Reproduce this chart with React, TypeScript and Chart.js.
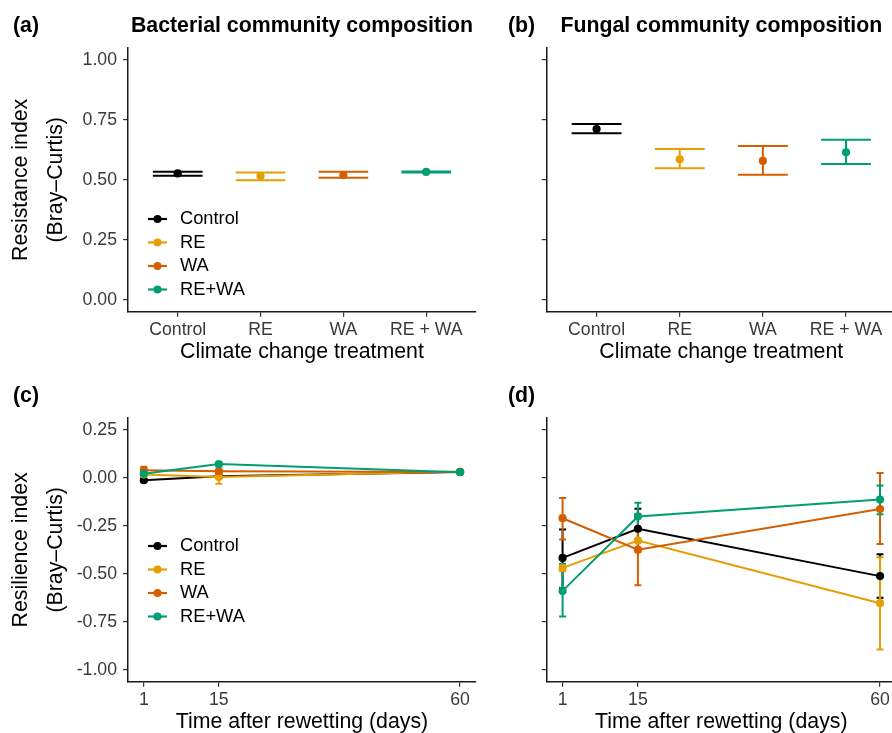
import React, { useEffect, useRef } from 'react';
import { Chart, registerables } from 'chart.js';

Chart.register(...registerables);

// ---------- data ----------
const treatments = ['Control', 'RE', 'WA', 'RE + WA'];
const seriesNames = ['Control', 'RE', 'WA', 'RE+WA'];
const seriesColors = ['#000000', '#E69F00', '#D55E00', '#009E73'];
const days = [1, 15, 60];
const resistanceTicks = [0, 0.25, 0.5, 0.75, 1];
const resilienceTicks = [-1, -0.75, -0.5, -0.25, 0, 0.25];

// (a) bacterial resistance
const bacResistanceMean = [0.527, 0.516, 0.52, 0.533];
const bacResistanceLow = [0.517, 0.498, 0.509, 0.531];
const bacResistanceHigh = [0.534, 0.531, 0.534, 0.535];

// (b) fungal resistance
const funResistanceMean = [0.712, 0.586, 0.579, 0.615];
const funResistanceLow = [0.694, 0.548, 0.521, 0.566];
const funResistanceHigh = [0.733, 0.629, 0.641, 0.667];

// (c) bacterial resilience, one row per series (Control, RE, WA, RE+WA), columns = days
const bacResilienceMean = [
  [-0.012, 0.009, 0.031],
  [0.018, 0.005, 0.033],
  [0.04, 0.035, 0.031],
  [0.022, 0.072, 0.03],
];
const bacResilienceLow = [
  [-0.018, 0.004, 0.028],
  [0.008, -0.03, 0.03],
  [0.02, 0.03, 0.028],
  [0.012, 0.06, 0.027],
];
const bacResilienceHigh = [
  [-0.006, 0.014, 0.034],
  [0.028, 0.035, 0.036],
  [0.058, 0.04, 0.034],
  [0.032, 0.082, 0.033],
];

// (d) fungal resilience
const funResilienceMean = [
  [-0.417, -0.265, -0.512],
  [-0.469, -0.327, -0.653],
  [-0.21, -0.374, -0.162],
  [-0.589, -0.201, -0.113],
];
const funResilienceLow = [
  [-0.574, -0.374, -0.625],
  [-0.486, -0.388, -0.894],
  [-0.321, -0.559, -0.344],
  [-0.723, -0.274, -0.19],
];
const funResilienceHigh = [
  [-0.269, -0.161, -0.398],
  [-0.449, -0.265, -0.414],
  [-0.105, -0.187, 0.026],
  [-0.449, -0.129, -0.04],
];

// ---------- styling ----------
const FONT = "'Liberation Sans', Arial, Helvetica, sans-serif";
const TICK_COLOR = '#3A3A3A';

// ---------- plugins ----------
const errorBarsPlugin = {
  id: 'errorBars',
  beforeDatasetsDraw(chart: any, _args: any, opts: any) {
    const { ctx } = chart;
    const xs = chart.scales.x;
    const ys = chart.scales.y;
    ctx.save();
    ctx.lineWidth = opts.lineWidth;
    ctx.lineCap = 'butt';
    chart.data.datasets.forEach((ds: any) => {
      ctx.strokeStyle = ds.borderColor;
      ds.data.forEach((pt: any, i: number) => {
        const cx = xs.getPixelForValue(pt.x);
        const l = xs.getPixelForValue(pt.x - opts.cap);
        const r = xs.getPixelForValue(pt.x + opts.cap);
        const y1 = ys.getPixelForValue(ds.errLow[i]);
        const y2 = ys.getPixelForValue(ds.errHigh[i]);
        ctx.beginPath();
        ctx.moveTo(cx, y1);
        ctx.lineTo(cx, y2);
        ctx.moveTo(l, y1);
        ctx.lineTo(r, y1);
        ctx.moveTo(l, y2);
        ctx.lineTo(r, y2);
        ctx.stroke();
      });
    });
    ctx.restore();
  },
};

const panelTextPlugin = {
  id: 'panelText',
  afterDraw(chart: any, _args: any, opts: any) {
    const { ctx, chartArea } = chart;
    ctx.save();
    ctx.fillStyle = '#000';
    ctx.font = `bold 21.3px ${FONT}`;
    ctx.textBaseline = 'middle';
    ctx.textAlign = 'left';
    ctx.fillText(opts.tag, opts.tagX, opts.textY);
    if (opts.title) {
      ctx.textAlign = 'center';
      ctx.fillText(opts.title, (chartArea.left + chartArea.right) / 2, opts.textY);
    }
    ctx.restore();
  },
};

const seriesLegendPlugin = {
  id: 'seriesLegend',
  afterDraw(chart: any, _args: any, opts: any) {
    if (!opts || !opts.show) return;
    const { ctx } = chart;
    ctx.save();
    chart.data.datasets.forEach((ds: any, i: number) => {
      const y = opts.y + i * opts.dy;
      ctx.strokeStyle = ds.borderColor;
      ctx.lineWidth = 2.2;
      ctx.beginPath();
      ctx.moveTo(opts.x, y);
      ctx.lineTo(opts.x + opts.len, y);
      ctx.stroke();
      ctx.fillStyle = ds.borderColor;
      ctx.beginPath();
      ctx.arc(opts.x + opts.len / 2, y, 4, 0, Math.PI * 2);
      ctx.fill();
      ctx.fillStyle = '#000';
      ctx.font = `18.3px ${FONT}`;
      ctx.textAlign = 'left';
      ctx.textBaseline = 'middle';
      ctx.fillText(ds.label, opts.textX, y);
    });
    ctx.restore();
  },
};

// ---------- config builders ----------
type PanelSpec = {
  categorical: boolean;
  datasets: any[];
  yTicks: number[];
  yMin: number;
  yMax: number;
  yTitle: string[] | null;
  showYLabels: boolean;
  xTitle: string;
  tag: string;
  tagX: number;
  title: string;
  rightPad: number;
  yAxisWidth: number;
  canvasHeight: number;
  legendY: number | null;
};

function buildConfig(s: PanelSpec): any {
  const xTickValues = s.categorical ? treatments.map((_, i) => i) : days;
  return {
    type: 'scatter',
    data: { datasets: s.datasets },
    plugins: [errorBarsPlugin, panelTextPlugin, seriesLegendPlugin],
    options: {
      animation: false,
      responsive: false,
      events: [],
      layout: { padding: { top: 48, left: 0, right: s.rightPad, bottom: 0 } },
      plugins: {
        legend: { display: false },
        tooltip: { enabled: false },
        title: { display: false },
        errorBars: { cap: s.categorical ? 0.3 : 0.65, lineWidth: 2 },
        panelText: { tag: s.tag, title: s.title, tagX: s.tagX, textY: 26 },
        seriesLegend: s.legendY !== null
          ? { show: true, x: 148, y: s.legendY, dy: 23.5, len: 19, textX: 180 }
          : { show: false },
      },
      scales: {
        x: {
          type: 'linear',
          position: 'bottom',
          min: s.categorical ? -0.6 : -1.95,
          max: s.categorical ? 3.6 : 62.95,
          bounds: 'data',
          afterBuildTicks: (axis: any) => {
            axis.ticks = xTickValues.map((v) => ({ value: v }));
          },
          afterFit: (axis: any) => {
            axis.height = s.canvasHeight - 311.7;
          },
          ticks: {
            autoSkip: false,
            maxRotation: 0,
            minRotation: 0,
            padding: 3,
            color: TICK_COLOR,
            font: { family: FONT, size: 17.7 },
            callback: (v: number) => (s.categorical ? treatments[v] : String(v)),
          },
          grid: {
            drawOnChartArea: false,
            drawTicks: true,
            tickLength: 5,
            color: '#333333',
            lineWidth: 1.2,
          },
          border: { display: true, color: '#1A1A1A', width: 1.5 },
          title: {
            display: true,
            text: s.xTitle,
            color: '#000000',
            font: { family: FONT, size: 21.3, lineHeight: 1.2 },
            padding: { top: 0, bottom: 5 },
          },
        },
        y: {
          type: 'linear',
          position: 'left',
          min: s.yMin,
          max: s.yMax,
          bounds: 'data',
          afterBuildTicks: (axis: any) => {
            axis.ticks = s.yTicks.map((v) => ({ value: v }));
          },
          afterFit: (axis: any) => {
            axis.width = s.yAxisWidth;
          },
          ticks: {
            padding: 6,
            color: TICK_COLOR,
            font: { family: FONT, size: 17.7 },
            callback: (v: number) => (s.showYLabels ? v.toFixed(2) : ''),
          },
          grid: {
            drawOnChartArea: false,
            drawTicks: true,
            tickLength: 5,
            color: '#333333',
            lineWidth: 1.2,
          },
          border: { display: true, color: '#1A1A1A', width: 1.5 },
          title: {
            display: !!s.yTitle,
            text: s.yTitle || '',
            color: '#000000',
            font: { family: FONT, size: 21.3, lineHeight: 1.6 },
            padding: { top: 4.5, bottom: 0 },
          },
        },
      },
    },
  };
}

function categoryDatasets(mean: number[], low: number[], high: number[]) {
  return seriesNames.map((name, i) => ({
    label: name,
    data: [{ x: i, y: mean[i] }],
    errLow: [low[i]],
    errHigh: [high[i]],
    borderColor: seriesColors[i],
    backgroundColor: seriesColors[i],
    pointBackgroundColor: seriesColors[i],
    pointBorderWidth: 0,
    pointRadius: 4.1,
    showLine: false,
    order: seriesNames.length - i,
  }));
}

function timeDatasets(mean: number[][], low: number[][], high: number[][]) {
  return seriesNames.map((name, i) => ({
    label: name,
    data: days.map((d, j) => ({ x: d, y: mean[i][j] })),
    errLow: low[i],
    errHigh: high[i],
    borderColor: seriesColors[i],
    backgroundColor: seriesColors[i],
    pointBackgroundColor: seriesColors[i],
    pointBorderWidth: 0,
    pointRadius: 4.1,
    borderWidth: 2,
    showLine: true,
    tension: 0,
    order: seriesNames.length - i,
  }));
}

// ---------- components ----------
function Panel(props: { left: number; top: number; width: number; height: number; spec: PanelSpec }) {
  const ref = useRef<HTMLCanvasElement | null>(null);
  useEffect(() => {
    const chart = new Chart(ref.current as HTMLCanvasElement, buildConfig(props.spec));
    return () => chart.destroy();
  }, []);
  return (
    <canvas
      ref={ref}
      width={props.width}
      height={props.height}
      style={{ position: 'absolute', left: props.left, top: props.top, width: props.width, height: props.height }}
    />
  );
}

export default function App() {
  const H = 370;
  const specA: PanelSpec = {
    categorical: true,
    datasets: categoryDatasets(bacResistanceMean, bacResistanceLow, bacResistanceHigh),
    yTicks: resistanceTicks,
    yMin: -0.05,
    yMax: 1.05,
    yTitle: ['Resistance index', '(Bray–Curtis)'],
    showYLabels: true,
    xTitle: 'Climate change treatment',
    tag: '(a)',
    tagX: 13,
    title: 'Bacterial community composition',
    rightPad: 2,
    yAxisWidth: 128,
    canvasHeight: H,
    legendY: 219,
  };
  const specB: PanelSpec = {
    categorical: true,
    datasets: categoryDatasets(funResistanceMean, funResistanceLow, funResistanceHigh),
    yTicks: resistanceTicks,
    yMin: -0.05,
    yMax: 1.05,
    yTitle: null,
    showYLabels: false,
    xTitle: 'Climate change treatment',
    tag: '(b)',
    tagX: 28,
    title: 'Fungal community composition',
    rightPad: 3.3,
    yAxisWidth: 66.7,
    canvasHeight: H,
    legendY: null,
  };
  const specC: PanelSpec = {
    categorical: false,
    datasets: timeDatasets(bacResilienceMean, bacResilienceLow, bacResilienceHigh),
    yTicks: resilienceTicks,
    yMin: -1.0625,
    yMax: 0.3125,
    yTitle: ['Resilience index', '(Bray–Curtis)'],
    showYLabels: true,
    xTitle: 'Time after rewetting (days)',
    tag: '(c)',
    tagX: 13,
    title: '',
    rightPad: 2,
    yAxisWidth: 128,
    canvasHeight: H,
    legendY: 176,
  };
  const specD: PanelSpec = {
    categorical: false,
    datasets: timeDatasets(funResilienceMean, funResilienceLow, funResilienceHigh),
    yTicks: resilienceTicks,
    yMin: -1.0625,
    yMax: 0.3125,
    yTitle: null,
    showYLabels: false,
    xTitle: 'Time after rewetting (days)',
    tag: '(d)',
    tagX: 28,
    title: '',
    rightPad: 3.3,
    yAxisWidth: 66.7,
    canvasHeight: H,
    legendY: null,
  };
  return (
    <div
      style={{
        position: 'absolute',
        left: 0,
        top: 0,
        width: 892,
        height: 733,
        overflow: 'hidden',
        background: '#ffffff',
      }}
    >
      <Panel left={0} top={0} width={480} height={H} spec={specA} />
      <Panel left={480} top={0} width={420} height={H} spec={specB} />
      <Panel left={0} top={370} width={480} height={H} spec={specC} />
      <Panel left={480} top={370} width={420} height={H} spec={specD} />
    </div>
  );
}
